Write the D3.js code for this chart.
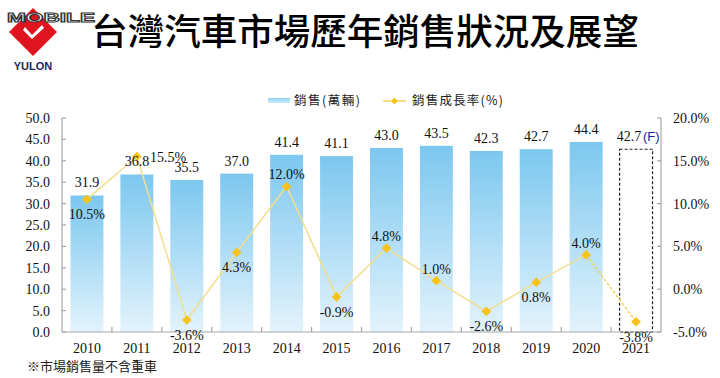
<!DOCTYPE html>
<html><head><meta charset="utf-8">
<script src="https://cdn.jsdelivr.net/npm/d3@7"></script>
<style>
html,body{margin:0;padding:0;background:#fff;}
svg{display:block;}
</style>
</head><body>
<svg id="c" width="720" height="378"></svg>
<script>
const years = ["2010","2011","2012","2013","2014","2015","2016","2017","2018","2019","2020","2021"];
const sales = [31.9, 36.8, 35.5, 37.0, 41.4, 41.1, 43.0, 43.5, 42.3, 42.7, 44.4, 42.7];
const growth = [10.5, 15.5, -3.6, 4.3, 12.0, -0.9, 4.8, 1.0, -2.6, 0.8, 4.0, -3.8];
const growthLabelSide = ["below","right","below","below","above","below","above","above","below","below","above","below"];
const leftTicks = [0,5,10,15,20,25,30,35,40,45,50];
const rightTicks = [-5,0,5,10,15,20];
const forecastYear = "2021";

const svg = d3.select("#c");
const L = 62, R = 661, T = 118, B = 332;
const serif = "'Liberation Serif','Times New Roman',serif";
const cjk = "'Noto Sans CJK TC','Noto Sans CJK SC',sans-serif";
const axisColor = "#a6a6a6";

const x = d3.scaleBand().domain(years).range([L, R]).paddingInner(0.34).paddingOuter(0.17);
const y = d3.scaleLinear().domain([0, 50]).range([B, T]);
const y2 = d3.scaleLinear().domain([-5, 20]).range([B, T]);

const defs = svg.append("defs");
const g = defs.append("linearGradient").attr("id","barGrad").attr("x1",0).attr("y1",0).attr("x2",0).attr("y2",1);
g.append("stop").attr("offset","0%").attr("stop-color","#7cc7ef");
g.append("stop").attr("offset","100%").attr("stop-color","#e3f3fc");
const gl = defs.append("linearGradient").attr("id","legGrad").attr("x1",0).attr("y1",0).attr("x2",0).attr("y2",1);
gl.append("stop").attr("offset","0%").attr("stop-color","#8fd0f3");
gl.append("stop").attr("offset","100%").attr("stop-color","#cdeafa");

// ---- logo ----
const logo = svg.append("g");
logo.append("path").attr("d","M33,8 L57,32 L33,56 L9,32 Z").attr("fill","#e0141e");
logo.append("path").attr("d","M25,27 L32,35 L42,25 L44,28 L32,39 L23,30 Z").attr("fill","#fff");
logo.append("text").attr("x",33).attr("y",70).attr("text-anchor","middle")
  .attr("font-family","'Liberation Sans',Arial,sans-serif").attr("font-weight","bold")
  .attr("font-size",11).attr("fill","#1a2a5a").text("YULON");
logo.append("text").attr("x",7).attr("y",22).attr("textLength",88).attr("lengthAdjust","spacingAndGlyphs")
  .attr("font-family","'Liberation Sans',Arial,sans-serif").attr("font-weight","bold")
  .attr("font-size",12).attr("fill","#fff").attr("stroke","#333").attr("stroke-width",0.9)
  .text("MOBILE");

// ---- title ----
svg.append("text").attr("x",365).attr("y",45).attr("text-anchor","middle")
  .attr("font-family",cjk).attr("font-weight",500).attr("font-size",36.5).attr("fill","#000")
  .text("台灣汽車市場歷年銷售狀況及展望");

// ---- bars ----
svg.append("g").selectAll("rect").data(years.map((yr,i)=>({yr,v:sales[i]}))).join("rect")
  .attr("x",d=>x(d.yr)).attr("width",x.bandwidth())
  .attr("y",d=>y(d.v)).attr("height",d=>B-y(d.v))
  .attr("fill",d=>d.yr===forecastYear?"none":"url(#barGrad)")
  .attr("stroke",d=>d.yr===forecastYear?"#222":"none")
  .attr("stroke-width",1.2)
  .attr("stroke-dasharray",d=>d.yr===forecastYear?"3,2":null);

// ---- axes ----
const ax = svg.append("g").attr("stroke",axisColor).attr("stroke-width",1.2);
ax.append("line").attr("x1",L).attr("x2",L).attr("y1",T).attr("y2",B);
ax.append("line").attr("x1",R).attr("x2",R).attr("y1",T).attr("y2",B);
ax.append("line").attr("x1",L).attr("x2",R).attr("y1",B).attr("y2",B);
leftTicks.forEach(t=>ax.append("line").attr("x1",L).attr("x2",L+4).attr("y1",y(t)).attr("y2",y(t)));
rightTicks.forEach(t=>ax.append("line").attr("x1",R).attr("x2",R-4).attr("y1",y2(t)).attr("y2",y2(t)));
const step = x.step();
years.forEach((yr,i)=>{ if(i>0){ const bx = x(yr) - (step - x.bandwidth())/2; ax.append("line").attr("x1",bx).attr("x2",bx).attr("y1",B).attr("y2",B-5);} });

svg.append("g").selectAll("text").data(leftTicks).join("text")
  .attr("x",50).attr("y",d=>y(d)+5).attr("text-anchor","end")
  .attr("font-family",serif).attr("font-size",14).attr("fill","#111")
  .text(d=>d.toFixed(1));
svg.append("g").selectAll("text").data(rightTicks).join("text")
  .attr("x",673).attr("y",d=>y2(d)+5).attr("text-anchor","start")
  .attr("font-family",serif).attr("font-size",14).attr("fill","#111")
  .text(d=>d.toFixed(1)+"%");
svg.append("g").selectAll("text").data(years).join("text")
  .attr("x",d=>x(d)+x.bandwidth()/2).attr("y",353).attr("text-anchor","middle")
  .attr("font-family",serif).attr("font-size",14).attr("fill","#111")
  .text(d=>d);

// ---- line ----
const pts = years.map((yr,i)=>({yr, v:growth[i], cx:x(yr)+x.bandwidth()/2, cy:y2(growth[i]), side:growthLabelSide[i]}));
const line = d3.line().x(d=>d.cx).y(d=>d.cy);
const fi = years.indexOf(forecastYear);
svg.append("path").datum(pts.slice(0,fi)).attr("d",line)
  .attr("fill","none").attr("stroke","#f3dd8e").attr("stroke-width",1.5);
svg.append("path").datum(pts.slice(fi-1,fi+1)).attr("d",line)
  .attr("fill","none").attr("stroke","#f3d45a").attr("stroke-width",1.5).attr("stroke-dasharray","3,2");
svg.append("g").selectAll("path").data(pts).join("path")
  .attr("d",d3.symbol(d3.symbolDiamond2,60))
  .attr("transform",d=>`translate(${d.cx},${d.cy})`)
  .attr("fill","#f7c21b");

// ---- bar value labels ----
svg.append("g").selectAll("text").data(years.map((yr,i)=>({yr,v:sales[i]}))).join("text")
  .attr("x",d=>x(d.yr)+x.bandwidth()/2 - (d.yr===forecastYear?7:0))
  .attr("y",d=>y(d.v)-8).attr("text-anchor","middle")
  .attr("font-family",serif).attr("font-size",14).attr("fill","#111")
  .text(d=>d.v.toFixed(1));
svg.append("text").attr("x",x(forecastYear)+x.bandwidth()/2+7).attr("y",y(sales[fi])-8)
  .attr("font-family","'Liberation Sans',Arial,sans-serif").attr("font-size",13).attr("fill","#1a1a9a")
  .text("(F)");

// ---- growth labels ----
svg.append("g").selectAll("text").data(pts).join("text")
  .attr("x",d=>d.side==="right"?d.cx+13:d.cx)
  .attr("y",d=>d.side==="above"?d.cy-7:(d.side==="below"?d.cy+20:d.cy+5))
  .attr("text-anchor",d=>d.side==="right"?"start":"middle")
  .attr("font-family",serif).attr("font-size",14).attr("fill","#111")
  .text(d=>d.v.toFixed(1)+"%");

// ---- legend ----
const leg = svg.append("g");
leg.append("rect").attr("x",268).attr("y",98).attr("width",22).attr("height",5).attr("fill","url(#legGrad)");
leg.append("text").attr("x",294).attr("y",105).attr("font-family",cjk).attr("font-size",12.5).attr("letter-spacing","1.5").attr("fill","#222").text("銷售(萬輛)");
leg.append("line").attr("x1",383).attr("x2",406).attr("y1",101).attr("y2",101).attr("stroke","#f3d45a").attr("stroke-width",1.5);
leg.append("path").attr("d",d3.symbol(d3.symbolDiamond2,30)).attr("transform","translate(394.5,101)").attr("fill","#f7c21b");
leg.append("text").attr("x",412).attr("y",105).attr("font-family",cjk).attr("font-size",12.5).attr("letter-spacing","1.2").attr("fill","#222").text("銷售成長率(%)");

// ---- footnote ----
svg.append("text").attr("x",27).attr("y",371).attr("font-family",cjk).attr("font-size",13).attr("fill","#222")
  .text("※市場銷售量不含重車");
</script>
</body></html>
